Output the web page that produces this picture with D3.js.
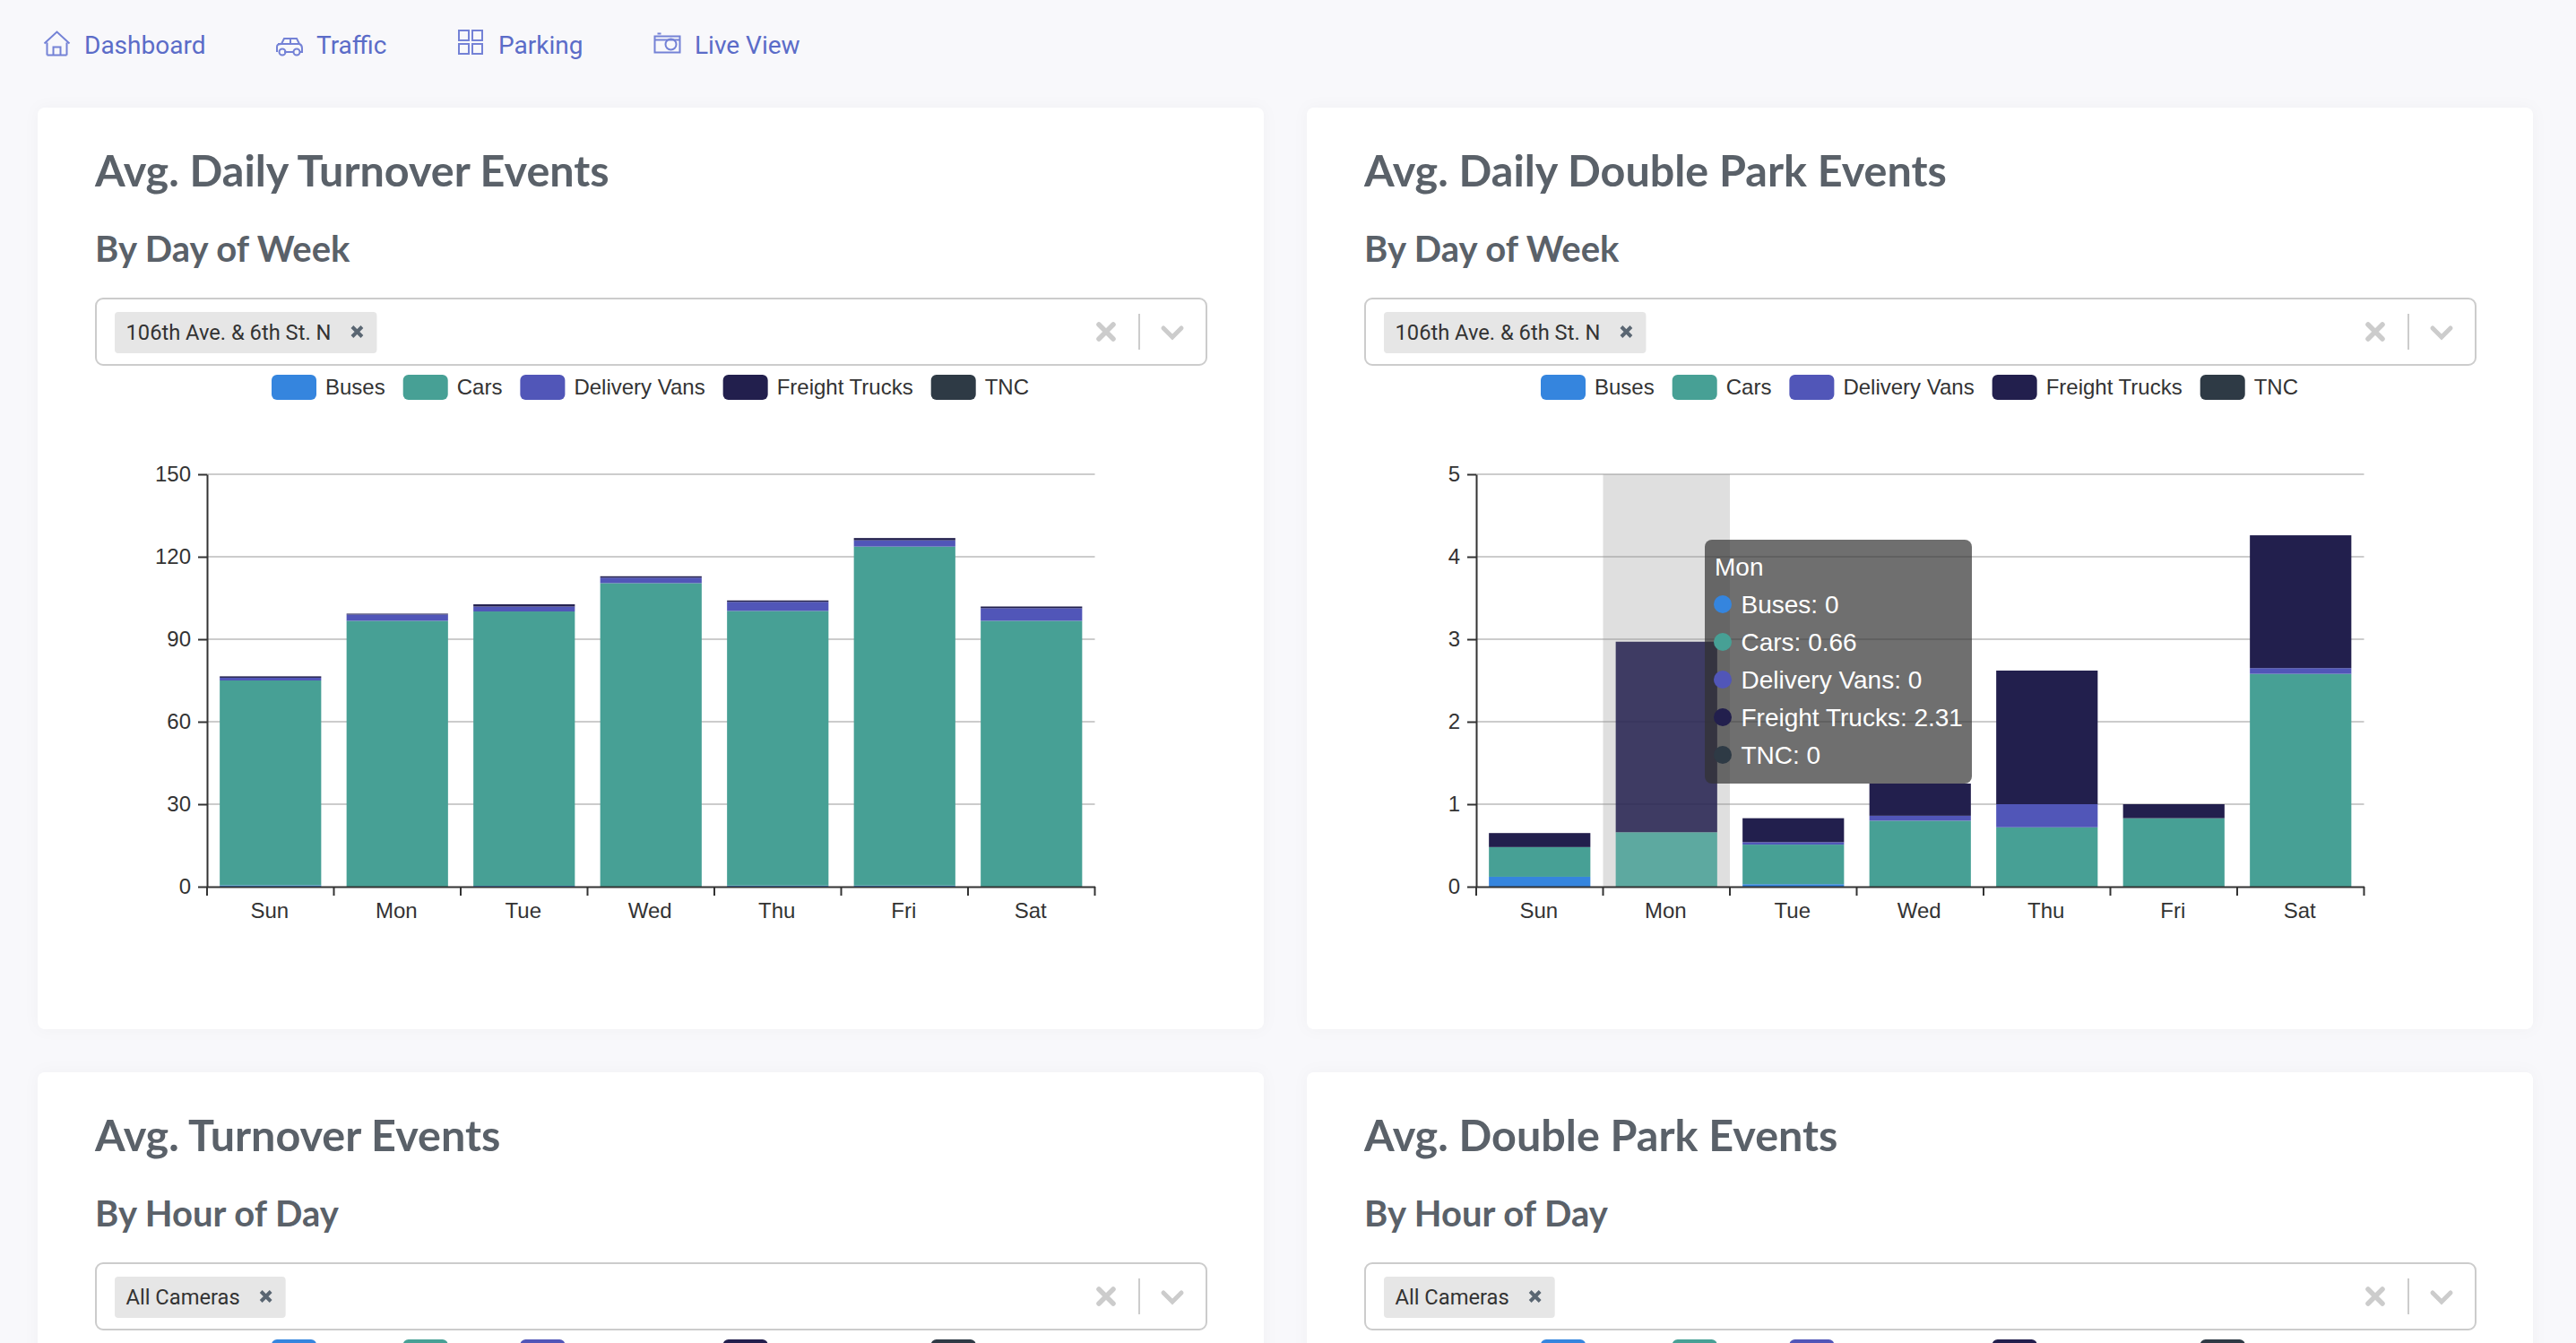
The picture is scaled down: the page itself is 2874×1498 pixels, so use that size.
<!DOCTYPE html>
<html>
<head>
<meta charset="utf-8">
<title>Events dashboard</title>
<script src="https://cdn.jsdelivr.net/npm/d3@7"></script>
<style>
  html, body { margin: 0; padding: 0; background: #f8f8fb; overflow: hidden; }
  svg { display: block; }
  .chart-text { font-family: "Liberation Sans", Arial, sans-serif; }
  .ui-text { font-family: Roboto, sans-serif; }
  .title { font-family: Lato, sans-serif; font-weight: 700; fill: #5a6169; }
</style>
</head>
<body>
<div id="page"></div>
<script>
const days = ['Sun', 'Mon', 'Tue', 'Wed', 'Thu', 'Fri', 'Sat'];
const seriesNames = ['Buses', 'Cars', 'Delivery Vans', 'Freight Trucks', 'TNC'];
const seriesColors = ['#3585de', '#47a095', '#5156b8', '#221f4d', '#2e3a45'];
const navLabels = ['Dashboard', 'Traffic', 'Parking', 'Live View'];

const turnoverTicks = [0, 30, 60, 90, 120, 150];
const turnoverBuses = [0.5, 0, 0.3, 0, 0.4, 0.4, 0];
const turnoverCars = [74.5, 96.7, 99.8, 110.4, 99.9, 123.3, 96.7];
const turnoverVans = [1.0, 2.3, 1.8, 2.0, 3.3, 2.3, 4.6];
const turnoverFreight = [0.5, 0.3, 0.8, 0.5, 0.5, 0.8, 0.6];
const turnoverTnc = [0, 0, 0, 0, 0, 0, 0];

const doubleParkTicks = [0, 1, 2, 3, 4, 5];
const doubleParkBuses = [0.12, 0, 0.03, 0, 0, 0, 0];
const doubleParkCars = [0.36, 0.66, 0.48, 0.8, 0.72, 0.83, 2.58];
const doubleParkVans = [0, 0, 0.03, 0.06, 0.28, 0, 0.07];
const doubleParkFreight = [0.17, 2.31, 0.29, 0.39, 1.62, 0.17, 1.61];
const doubleParkTnc = [0, 0, 0, 0, 0, 0, 0];

const width = 2874;
const height = 1498;

const svg = d3.select('#page').append('svg')
  .attr('width', width)
  .attr('height', height)
  .attr('viewBox', `0 0 ${width} ${height}`);

// nav icons are plain outlines, each one drawn around its own origin
const navIcons = [
  'M-11 13 L-11 -1 M11 13 L11 -1 M-11 13 L11 13 M-14 0 L0 -13 L14 0 M-4 13 L-4 4 L4 4 L4 13',
  'M-14 6 L-14 0 Q-14 -3 -9 -3 L-6 -9 L8 -9 L11 -3 Q14 -2 14 2 L14 6 L11 6 M-6 6 L5 6 M-13 -3 L11 -3 M1 -9 L1 -3',
  'M-13 -13 h11 v11 h-11 Z M2 -13 h11 v11 h-11 Z M-13 2 h11 v11 h-11 Z M2 2 h11 v11 h-11 Z',
  'M-14 -7 h28 v18 h-28 Z M-14 -3 h28 M-11 -10 h4'
];
const navPositions = [
  {icon: 63.5, iconY: 48.5, text: 94},
  {icon: 323, iconY: 52, text: 353},
  {icon: 525, iconY: 47, text: 556},
  {icon: 744.5, iconY: 47.5, text: 775}
];

const nav = svg.append('g');
navLabels.forEach((label, i) => {
  const pos = navPositions[i];
  const iconGroup = nav.append('g')
    .attr('transform', `translate(${pos.icon},${pos.iconY})`)
    .attr('fill', 'none')
    .attr('stroke', '#7482d6')
    .attr('stroke-width', 2);
  iconGroup.append('path').attr('d', navIcons[i]);
  if (i === 1) {
    iconGroup.append('circle').attr('cx', -8).attr('cy', 6).attr('r', 3.5);
    iconGroup.append('circle').attr('cx', 8).attr('cy', 6).attr('r', 3.5);
  }
  if (i === 3) {
    iconGroup.append('circle').attr('cx', 4).attr('cy', 2).attr('r', 6);
  }
  nav.append('text')
    .attr('class', 'ui-text')
    .attr('x', pos.text)
    .attr('y', 60)
    .attr('font-size', 28)
    .attr('fill', '#5b6cc8')
    .text(label);
});

function drawLegend(group, top) {
  let x = 303;
  seriesNames.forEach((name, i) => {
    group.append('rect')
      .attr('x', x).attr('y', 418)
      .attr('width', 50).attr('height', 28)
      .attr('rx', 6)
      .attr('fill', seriesColors[i]);
    const label = group.append('text')
      .attr('class', 'chart-text')
      .attr('x', x + 60).attr('y', 439.5)
      .attr('font-size', 24)
      .attr('fill', '#333')
      .text(name);
    x += 60 + label.node().getComputedTextLength() + 20;
    // lower row: only the swatch tops reach the window, the labels fall below it
    if (top > 0) label.remove();
  });
}

function drawSelect(group, chipLabel) {
  group.append('rect')
    .attr('x', 107).attr('y', 333)
    .attr('width', 1239).attr('height', 74)
    .attr('rx', 8)
    .attr('fill', '#fff')
    .attr('stroke', '#ccc')
    .attr('stroke-width', 2);
  const chip = group.append('rect')
    .attr('x', 128).attr('y', 348)
    .attr('height', 46)
    .attr('rx', 4)
    .attr('fill', '#e6e6e6');
  const chipText = group.append('text')
    .attr('class', 'ui-text')
    .attr('x', 140.5).attr('y', 378.5)
    .attr('font-size', 23.7)
    .attr('fill', '#333')
    .text(chipLabel);
  const textRight = 140.5 + chipText.node().getComputedTextLength();
  chip.attr('width', textRight + 51 - 128);
  const cross = (cx, cy, r) => `M${cx - r} ${cy - r} L${cx + r} ${cy + r} M${cx + r} ${cy - r} L${cx - r} ${cy + r}`;
  group.append('path')
    .attr('d', cross(textRight + 29, 370, 5.5))
    .attr('stroke', '#5a6672').attr('stroke-width', 4).attr('fill', 'none');
  group.append('path')
    .attr('d', cross(1234, 370, 8))
    .attr('stroke', '#ccc').attr('stroke-width', 5.5).attr('stroke-linecap', 'round').attr('fill', 'none');
  group.append('line')
    .attr('x1', 1271).attr('x2', 1271).attr('y1', 350).attr('y2', 390)
    .attr('stroke', '#ccc').attr('stroke-width', 2);
  group.append('path')
    .attr('d', 'M1298 366 L1308 376 L1318 366')
    .attr('stroke', '#ccc').attr('stroke-width', 5).attr('stroke-linecap', 'round').attr('fill', 'none');
}

function drawCard(left, top, title, subtitle, chipLabel) {
  const group = svg.append('g').attr('transform', `translate(${left},${top})`);
  group.append('rect')
    .attr('x', 42).attr('y', 120)
    .attr('width', 1368).attr('height', 1028)
    .attr('rx', 8)
    .attr('fill', '#fff')
    .style('filter', 'drop-shadow(0 0 8px rgba(0,0,0,0.03))');
  group.append('text').attr('class', 'title')
    .attr('x', 106).attr('y', 208)
    .attr('font-size', 48.5)
    .text(title);
  group.append('text').attr('class', 'title')
    .attr('x', 106).attr('y', 292)
    .attr('font-size', 40)
    .text(subtitle);
  drawSelect(group, chipLabel);
  drawLegend(group, top);
  return group;
}

function drawChart(group, ticks, seriesArrays, hoverIndex) {
  const x = d3.scaleBand().domain(days).range([231, 1221.5]).paddingInner(0.2).paddingOuter(0.1);
  const y = d3.scaleLinear().domain([0, d3.max(ticks)]).range([989, 529]);

  group.append('g').selectAll('line')
    .data(ticks.filter(d => d > 0))
    .join('line')
    .attr('x1', 231).attr('x2', 1221.5)
    .attr('y1', d => y(d)).attr('y2', d => y(d))
    .attr('stroke', '#ccc')
    .attr('stroke-width', 2);

  // hovered category: grey band over the grid, its bars washed out on top
  if (hoverIndex != null) {
    group.append('rect')
      .attr('x', 231 + hoverIndex * x.step())
      .attr('width', x.step())
      .attr('y', y.range()[1])
      .attr('height', y.range()[0] - y.range()[1])
      .attr('fill', 'rgba(150,150,150,0.3)');
  }

  const rows = days.map((day, i) => {
    const row = {day};
    seriesNames.forEach((name, s) => { row[name] = seriesArrays[s][i]; });
    return row;
  });
  const stacked = d3.stack().keys(seriesNames)(rows);

  group.append('g').selectAll('g')
    .data(stacked)
    .join('g')
    .attr('fill', (d, i) => seriesColors[i])
    .selectAll('rect')
    .data(d => d)
    .join('rect')
    .attr('x', d => x(d.data.day))
    .attr('width', x.bandwidth())
    .attr('y', d => y(d[1]))
    .attr('height', d => y(d[0]) - y(d[1]))
    .attr('fill-opacity', d => (d.data.day === days[hoverIndex] ? 0.85 : 1));

  const yAxis = group.append('g')
    .attr('class', 'chart-text')
    .attr('transform', 'translate(231,0)')
    .call(d3.axisLeft(y).tickValues(ticks).tickFormat(d3.format('d')).tickSize(10).tickSizeOuter(0).tickPadding(8));
  const xAxis = group.append('g')
    .attr('class', 'chart-text')
    .attr('transform', 'translate(0,989)')
    .call(d3.axisBottom(x).tickSize(0).tickSizeOuter(0).tickPadding(18));

  // category ticks sit on the slot boundaries, not on the labels
  xAxis.selectAll('line.boundary')
    .data(d3.range(days.length + 1))
    .join('line')
    .attr('class', 'boundary')
    .attr('x1', d => 231 + d * x.step())
    .attr('x2', d => 231 + d * x.step())
    .attr('y1', 0).attr('y2', 10)
    .attr('stroke', '#333')
    .attr('stroke-width', 2);

  [xAxis, yAxis].forEach(axis => {
    axis.attr('font-size', 24).attr('font-family', null);
    axis.selectAll('.domain, .tick line').attr('stroke', '#333').attr('stroke-width', 2);
    axis.selectAll('.tick text').attr('fill', '#333');
  });
  xAxis.selectAll('.tick text').attr('dx', -1);
}

function drawTooltip(group, dayIndex, seriesArrays) {
  group.append('rect')
    .attr('x', 486).attr('y', 602)
    .attr('width', 298).attr('height', 272)
    .attr('rx', 8)
    .attr('fill', 'rgba(50,50,50,0.7)');
  group.append('text')
    .attr('class', 'chart-text')
    .attr('x', 497).attr('y', 642)
    .attr('font-size', 28)
    .attr('fill', '#fff')
    .text(days[dayIndex]);
  seriesNames.forEach((name, s) => {
    const rowY = 674 + s * 42;
    group.append('circle')
      .attr('cx', 506).attr('cy', rowY).attr('r', 10)
      .attr('fill', seriesColors[s]);
    group.append('text')
      .attr('class', 'chart-text')
      .attr('x', 526.5).attr('y', rowY + 10)
      .attr('font-size', 28)
      .attr('fill', '#fff')
      .text(`${name}: ${seriesArrays[s][dayIndex]}`);
  });
}

const turnoverSeries = [turnoverBuses, turnoverCars, turnoverVans, turnoverFreight, turnoverTnc];
const doubleParkSeries = [doubleParkBuses, doubleParkCars, doubleParkVans, doubleParkFreight, doubleParkTnc];

const turnoverCard = drawCard(0, 0, 'Avg. Daily Turnover Events', 'By Day of Week', '106th Ave. & 6th St. N');
drawChart(turnoverCard, turnoverTicks, turnoverSeries);

const doubleParkCard = drawCard(1416, 0, 'Avg. Daily Double Park Events', 'By Day of Week', '106th Ave. & 6th St. N');
drawChart(doubleParkCard, doubleParkTicks, doubleParkSeries, 1);
drawTooltip(doubleParkCard, 1, doubleParkSeries);

drawCard(0, 1076, 'Avg. Turnover Events', 'By Hour of Day', 'All Cameras');
drawCard(1416, 1076, 'Avg. Double Park Events', 'By Hour of Day', 'All Cameras');
</script>
</body>
</html>
